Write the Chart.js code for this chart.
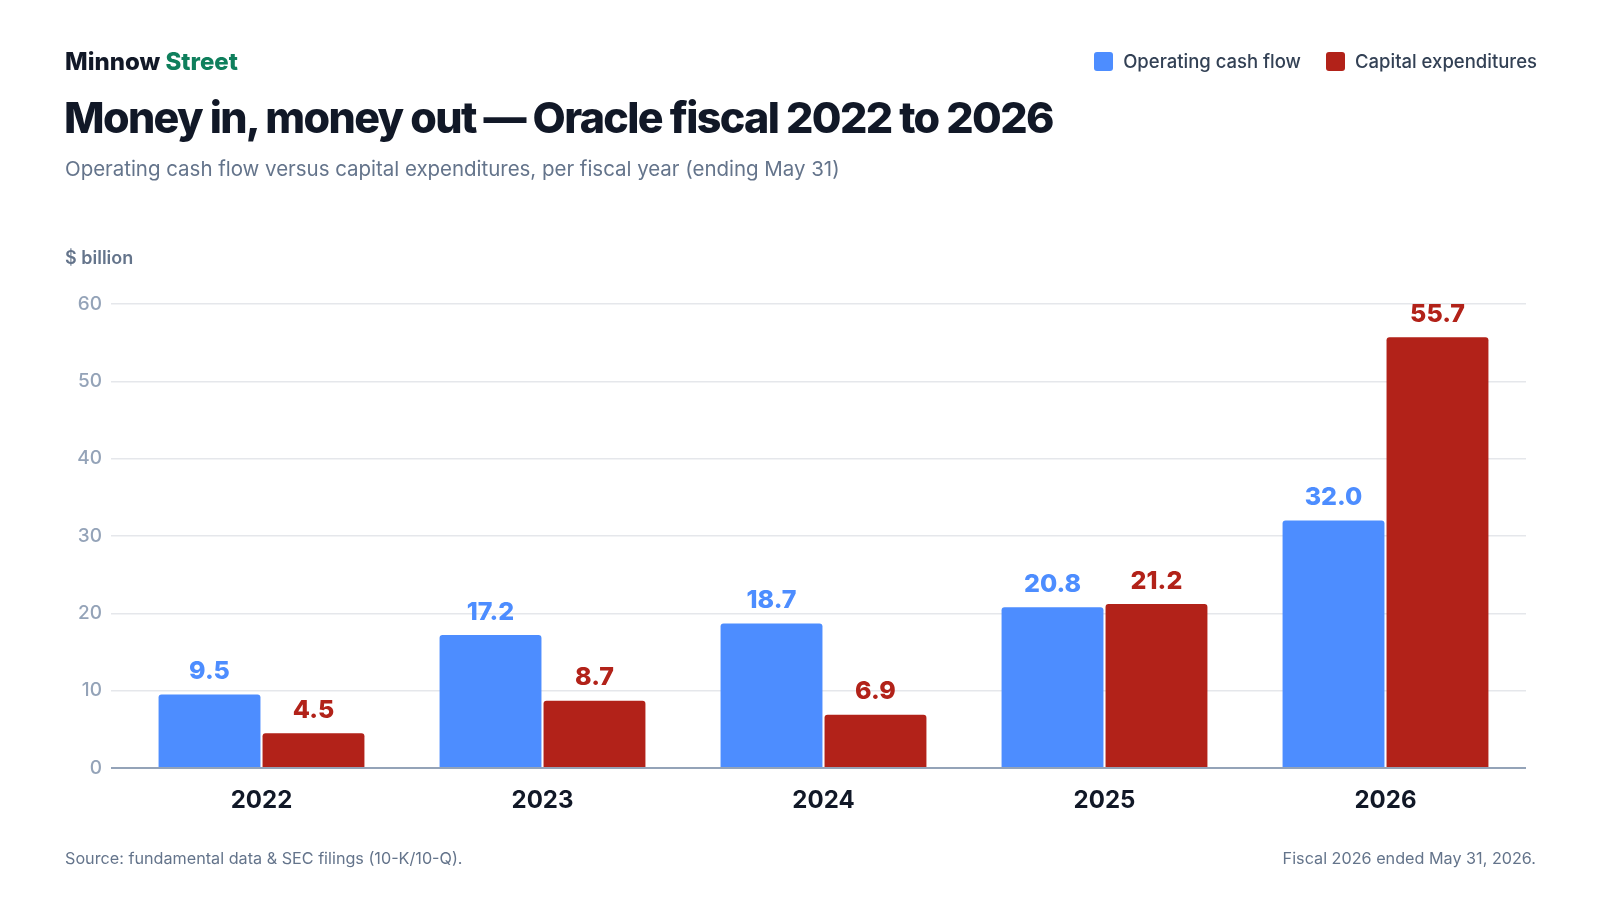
<!DOCTYPE html>
<html>
<head>
<meta charset="utf-8">
<script src="https://cdn.jsdelivr.net/npm/chart.js@4.4.1/dist/chart.umd.min.js"></script>
<style>
  html, body { margin: 0; padding: 0; background: #fff; }
  body { width: 1600px; height: 900px; position: relative; overflow: hidden; font-family: Inter, "Noto Sans", sans-serif; }
  .txt { position: absolute; line-height: 1; white-space: nowrap; }
  #brand { left: 65px; top: 50px; font-size: 24px; font-weight: 800; color: #111827; letter-spacing: 0; }
  #brand span { color: #0f7f5c; }
  #title { left: 64px; top: 96px; font-size: 43px; font-weight: 800; color: #111827; letter-spacing: -1.65px; }
  #subtitle { left: 65px; top: 159px; font-size: 20.5px; color: #64748b; letter-spacing: -0.03px; }
  #unit { left: 65px; top: 249px; font-size: 18px; font-weight: 600; color: #64748b; }
  #source { left: 65px; top: 850px; font-size: 16.2px; color: #64748b; }
  #note { right: 64px; top: 850px; font-size: 16.2px; color: #64748b; }
  #legend { position: absolute; right: 63px; top: 52px; display: flex; align-items: center; gap: 25px; font-size: 18.5px; font-weight: 500; color: #334155; line-height: 1; }
  #legend .item { display: flex; align-items: center; gap: 10px; }
  #legend .sw { width: 19px; height: 19px; border-radius: 3px; }
  #chart { position: absolute; left: 0; top: 0; }
</style>
</head>
<body>
<canvas id="chart" width="1600" height="900"></canvas>
<div class="txt" id="brand">Minnow <span>Street</span></div>
<div class="txt" id="title">Money in, money out — Oracle fiscal 2022 to 2026</div>
<div class="txt" id="subtitle">Operating cash flow versus capital expenditures, per fiscal year (ending May 31)</div>
<div class="txt" id="unit">$ billion</div>
<div id="legend"></div>
<div class="txt" id="source">Source: fundamental data &amp; SEC filings (10-K/10-Q).</div>
<div class="txt" id="note">Fiscal 2026 ended May 31, 2026.</div>
<script>
const years = ['2022', '2023', '2024', '2025', '2026'];
const operatingCashFlow = [9.5, 17.2, 18.7, 20.8, 32.0];
const capitalExpenditures = [4.5, 8.7, 6.9, 21.2, 55.7];
const yTicks = [0, 10, 20, 30, 40, 50, 60];

const BLUE = '#4d8dff';
const RED = '#b22219';

// legend in html, top right
const legend = document.getElementById('legend');
[['Operating cash flow', BLUE], ['Capital expenditures', RED]].forEach(([label, color]) => {
  const item = document.createElement('div');
  item.className = 'item';
  item.innerHTML = `<div class="sw" style="background:${color}"></div><div>${label}</div>`;
  legend.appendChild(item);
});

// value labels above each bar
const valueLabels = {
  id: 'valueLabels',
  afterDatasetsDraw(chart) {
    const ctx = chart.ctx;
    ctx.save();
    ctx.font = '800 25px Inter, "Noto Sans", sans-serif';
    ctx.textAlign = 'center';
    ctx.textBaseline = 'middle';
    chart.data.datasets.forEach((ds, i) => {
      ctx.fillStyle = ds.backgroundColor;
      chart.getDatasetMeta(i).data.forEach((bar, j) => {
        ctx.fillText(ds.data[j].toFixed(1), bar.x, bar.y - 23);
      });
    });
    ctx.restore();
  }
};

new Chart(document.getElementById('chart'), {
  type: 'bar',
  data: {
    labels: years,
    datasets: [
      { label: 'Operating cash flow', data: operatingCashFlow, backgroundColor: BLUE },
      { label: 'Capital expenditures', data: capitalExpenditures, backgroundColor: RED }
    ]
  },
  options: {
    responsive: false,
    animation: false,
    devicePixelRatio: 1,
    categoryPercentage: 0.74,
    barPercentage: 0.98,
    borderRadius: { topLeft: 3, topRight: 3 },
    borderSkipped: 'bottom',
    layout: { padding: { left: 0, top: 304, right: 74, bottom: 0 } },
    plugins: {
      legend: { display: false },
      tooltip: { enabled: false }
    },
    scales: {
      x: {
        grid: { display: false },
        border: { display: false },
        ticks: {
          color: '#111827',
          font: { family: 'Inter', size: 24, weight: 700 },
          padding: 10
        },
        afterFit(scale) { scale.height = 132; }
      },
      y: {
        min: 0,
        max: 60,
        afterBuildTicks(scale) { scale.ticks = yTicks.map(v => ({ value: v })); },
        grid: {
          color: ctx => ctx.tick && ctx.tick.value === 0 ? '#94a3b8' : '#e5e7eb',
          lineWidth: ctx => ctx.tick && ctx.tick.value === 0 ? 2 : 1.5,
          drawTicks: true,
          tickLength: 10
        },
        border: { display: false },
        ticks: {
          color: '#94a3b8',
          font: { family: 'Inter', size: 19, weight: 500 },
          padding: 9
        },
        afterFit(scale) { scale.width = 121; }
      }
    }
  },
  plugins: [valueLabels]
});
</script>
</body>
</html>
